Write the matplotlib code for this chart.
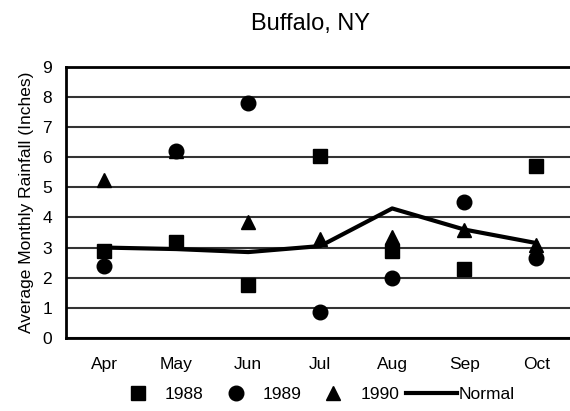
import numpy as np
import matplotlib.pyplot as plt

plt.rcParams['font.family'] = ['Liberation Sans', 'DejaVu Sans']

months = ['Apr', 'May', 'Jun', 'Jul', 'Aug', 'Sep', 'Oct']
rain_1988 = [2.9, 3.2, 1.75, 6.05, 2.9, 2.3, 5.7]
rain_1989 = [2.4, 6.2, 7.8, 0.85, 2.0, 4.5, 2.65]
rain_1990 = [5.25, 6.2, 3.85, 3.3, 3.35, 3.6, 3.1]
normal = [3.0, 2.95, 2.85, 3.05, 4.3, 3.6, 3.15]

x = np.arange(len(months))

fig = plt.figure(figsize=(5.7, 4.11), dpi=100)
ax = fig.add_axes([0.116, 0.178, 0.884, 0.659])

ax.set_axisbelow(True)
ax.grid(axis='y', color='#333333', linewidth=1.5)
ax.plot(x, normal, color='black', linewidth=3, label='Normal', zorder=3)
ax.plot(x, rain_1990, linestyle='none', marker='^', markersize=10, color='black', label='1990', zorder=4)
ax.plot(x, rain_1988, linestyle='none', marker='s', markersize=10, color='black', label='1988', zorder=4)
ax.plot(x, rain_1989, linestyle='none', marker='o', markersize=10.5, color='black', label='1989', zorder=5)

ax.set_xlim(-0.53, 6.47)
ax.set_ylim(0, 9)
ax.set_yticks(range(0, 10))
ax.set_xticks(x)
ax.set_xticklabels(months)
ax.tick_params(axis='x', length=0, pad=14, labelsize=12.5)
ax.tick_params(axis='y', length=0, pad=10, labelsize=12.5)
for s in ['left', 'bottom', 'top']:
    ax.spines[s].set_linewidth(2)
ax.spines['right'].set_visible(False)

ax.set_ylabel('Average Monthly Rainfall (Inches)', fontsize=12.5, labelpad=6)
fig.text(0.545, 0.942, 'Buffalo, NY', ha='center', va='center', fontsize=17)

h, l = ax.get_legend_handles_labels()
order = [2, 3, 1, 0]
fig.legend([h[i] for i in order], [l[i] for i in order], loc='center',
           bbox_to_anchor=(0.55, 0.04), ncol=4, frameon=False, fontsize=12.5,
           handlelength=2.9, columnspacing=0.4, handletextpad=0.1)

plt.savefig('out.png', dpi=100)
